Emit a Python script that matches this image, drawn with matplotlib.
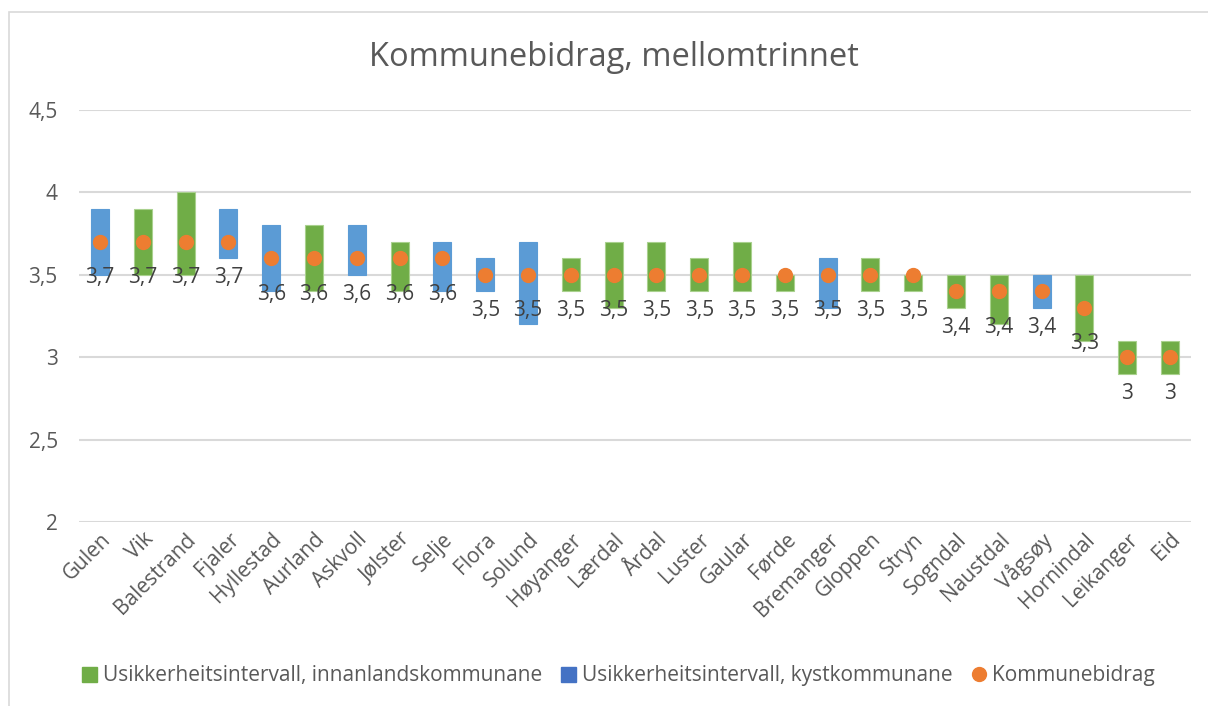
import matplotlib
matplotlib.use('Agg')
import matplotlib.pyplot as plt
from matplotlib.patches import Rectangle, Patch
from matplotlib.lines import Line2D

plt.rcParams['font.family'] = ['Open Sans', 'DejaVu Sans']

# data
kommunar = ['Gulen', 'Vik', 'Balestrand', 'Fjaler', 'Hyllestad', 'Aurland', 'Askvoll',
            'Jølster', 'Selje', 'Flora', 'Solund', 'Høyanger', 'Lærdal', 'Årdal',
            'Luster', 'Gaular', 'Førde', 'Bremanger', 'Gloppen', 'Stryn', 'Sogndal',
            'Naustdal', 'Vågsøy', 'Hornindal', 'Leikanger', 'Eid']
bidrag = [3.7, 3.7, 3.7, 3.7, 3.6, 3.6, 3.6, 3.6, 3.6, 3.5, 3.5, 3.5, 3.5, 3.5,
          3.5, 3.5, 3.5, 3.5, 3.5, 3.5, 3.4, 3.4, 3.4, 3.3, 3.0, 3.0]
nedre = [3.5, 3.5, 3.5, 3.6, 3.4, 3.4, 3.5, 3.4, 3.4, 3.4, 3.2, 3.4, 3.3, 3.4,
         3.4, 3.4, 3.4, 3.3, 3.4, 3.4, 3.3, 3.2, 3.3, 3.1, 2.9, 2.9]
ovre = [3.9, 3.9, 4.0, 3.9, 3.8, 3.8, 3.8, 3.7, 3.7, 3.6, 3.7, 3.6, 3.7, 3.7,
        3.6, 3.7, 3.5, 3.6, 3.6, 3.5, 3.5, 3.5, 3.5, 3.5, 3.1, 3.1]
kyst = [True, False, False, True, True, False, True, False, True, True, True, False,
        False, False, False, False, False, True, False, False, False, False, True,
        False, False, False]

GREEN = '#70AD47'
BLUE = '#5B9BD5'
ORANGE = '#ED7D31'
TXT = '#595959'

fig = plt.figure(figsize=(12.08, 7.06), dpi=100)
fig.patches.append(Rectangle((9 / 1208, -0.1), 1.2, 1 - 12 / 706 + 0.1,
                             transform=fig.transFigure, facecolor='none',
                             edgecolor='#D9D9D9', linewidth=1.2))
ax = fig.add_axes([78.6 / 1208, 1 - 522 / 706, (1191.4 - 78.6) / 1208, 412 / 706])

x = list(range(len(kommunar)))
for i in x:
    col = BLUE if kyst[i] else GREEN
    edge = BLUE if kyst[i] else '#A9D18E'
    ax.bar(i, ovre[i] - nedre[i], bottom=nedre[i], width=0.42, color=col,
           edgecolor=edge, linewidth=0.8, zorder=2)
ax.plot(x, bidrag, 'o', color=ORANGE, markersize=10, zorder=3)

for i, v in zip(x, bidrag):
    lab = f'{v:g}'.replace('.', ',')
    ax.annotate(lab, (i, v), xytext=(0, -26), textcoords='offset points',
                ha='center', va='center', fontsize=15, color='#404040', zorder=4)

ax.set_xlim(-0.5, len(kommunar) - 0.5)
ax.set_ylim(2, 4.5)
ax.set_yticks([2, 2.5, 3, 3.5, 4, 4.5])
ax.set_yticklabels(['2', '2,5', '3', '3,5', '4', '4,5'], fontsize=15, color=TXT)
ax.set_xticks(x)
ax.set_xticklabels(kommunar, rotation=45, ha='right', rotation_mode='anchor',
                   fontsize=15, color=TXT)
ax.tick_params(axis='y', length=0, pad=15)
ax.tick_params(axis='x', length=0, pad=5)
ax.grid(axis='y', color='#D9D9D9', linewidth=1.5, zorder=0)
for s in ax.spines.values():
    s.set_visible(False)
ax.set_axisbelow(True)

fig.text(0.508, 1 - 57 / 706, 'Kommunebidrag, mellomtrinnet', ha='center', va='center',
         fontsize=23.5, color=TXT)

handles = [Patch(facecolor=GREEN, edgecolor=GREEN),
           Patch(facecolor='#4472C4', edgecolor='#4472C4'),
           Line2D([], [], marker='o', linestyle='none', color=ORANGE, markersize=10)]
labels = ['Usikkerheitsintervall, innanlandskommunane',
          'Usikkerheitsintervall, kystkommunane', 'Kommunebidrag']
fig.legend(handles, labels, loc='center', bbox_to_anchor=(0.512, 1 - 676 / 706),
           ncol=3, frameon=False, fontsize=15, labelcolor=TXT, handlelength=0.7,
           handleheight=0.7, handletextpad=0.3, columnspacing=0.9)

plt.savefig('out.png', dpi=100)
plt.close()
